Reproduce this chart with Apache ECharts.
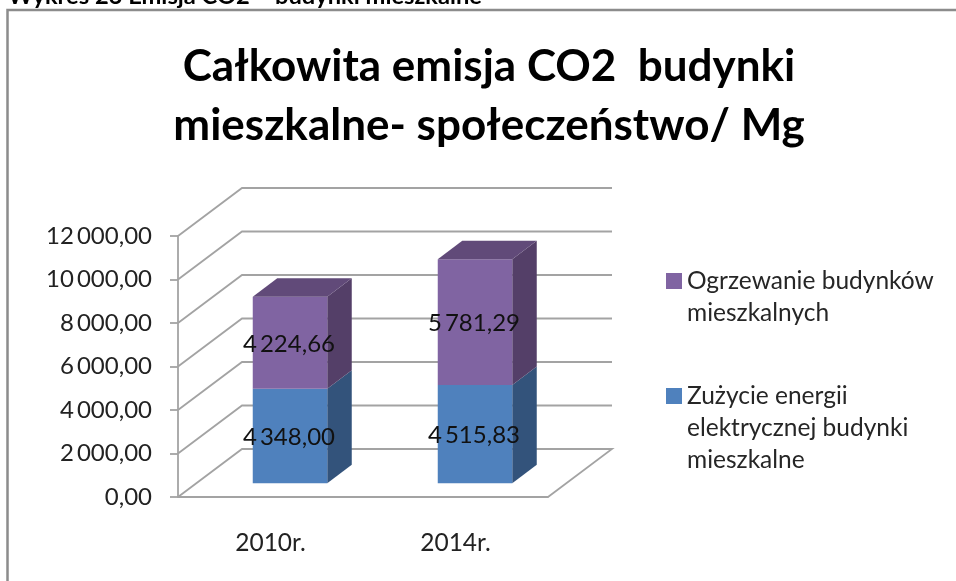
<!DOCTYPE html>
<html>
<head>
<meta charset="utf-8">
<title>Emisja CO2</title>
<script src="https://cdn.jsdelivr.net/npm/echarts@6/dist/echarts.min.js"></script>
<style>
html,body{margin:0;padding:0;background:#fff;}
#main{width:956px;height:581px;}
</style>
</head>
<body>
<div id="main"></div>
<script>
// dane z wykresu
var categories = ['2010r.', '2014r.'];
var elektrycznosc = [4348.00, 4515.83];
var ogrzewanie = [4224.66, 5781.29];
var yTicks = [0, 2000, 4000, 6000, 8000, 10000, 12000];
var nameElektr = 'Zużycie energii elektrycznej budynki mieszkalne';
var nameOgrz = 'Ogrzewanie budynków mieszkalnych';

var fontName = 'Lato';
var lineColor = '#a3a3a3';

// liczba w polskim zapisie: 12 000,00 (waska spacja)
function plNumber(v){
    var s = v.toFixed(2).split('.');
    return s[0].replace(/\B(?=(\d{3})+$)/g, '\u2009') + ',' + s[1];
}

// tylne sciany - linie siatki "3D"
function renderWall(params, api){
    var rect = params.coordSys;
    var y = api.coord([0, api.value(0)])[1];
    var dx = 64, dy = 48;
    var pts = [[rect.x, y], [rect.x + dx, y - dy], [rect.x + rect.width + dx, y - dy]];
    if (api.value(0) === 0) {
        pts.push([rect.x + rect.width, y]);  // podloga, prawa krawedz
    }
    return {
        type: 'polyline',
        shape: {points: pts},
        style: {stroke: lineColor, lineWidth: 1.8, fill: null}
    };
}

// slupek 3D: przod, bok i opcjonalnie gora
function makeBar(values, bases, front, side, top){
    return function(params, api){
        var i = api.value(0);
        var base = bases ? bases[i] : 0;
        var liftX = 19.5, liftY = 13.7;         // przesuniecie slupka w glab
        var depthX = 24.5, depthY = 18.5;
        var w = 74.5;
        var p0 = api.coord([i, base]);
        var p1 = api.coord([i, base + values[i]]);
        var x0 = p0[0] + liftX - w / 2, x1 = x0 + w;
        var y0 = p0[1] - liftY, y1 = p1[1] - liftY;
        var kids = [
            {type: 'polygon', shape: {points: [[x1, y0], [x1 + depthX, y0 - depthY], [x1 + depthX, y1 - depthY], [x1, y1]]}, style: {fill: side}},
            {type: 'rect', shape: {x: x0, y: y1, width: w, height: y0 - y1}, style: {fill: front}}
        ];
        if (top) {
            kids.push({type: 'polygon', shape: {points: [[x0, y1], [x0 + depthX, y1 - depthY], [x1 + depthX, y1 - depthY], [x1, y1]]}, style: {fill: top}});
        }
        kids.push({
            type: 'text',
            style: {
                text: plNumber(values[i]),
                x: (x0 + x1) / 2 - 1,
                y: (y0 + y1) / 2 + 1.5,
                align: 'center',
                verticalAlign: 'middle',
                fill: '#111',
                font: '24px ' + fontName
            }
        });
        return {type: 'group', children: kids};
    };
}

var myChart = echarts.init(document.getElementById('main'));
var option = {
    animation: false,
    backgroundColor: '#fff',
    textStyle: {fontFamily: fontName},
    title: [
        {
            text: 'Całkowita emisja CO2  budynki\nmieszkalne- społeczeństwo/ Mg',
            left: 484,
            top: 32,
            textAlign: 'center',
            textStyle: {fontFamily: fontName, fontSize: 44, fontWeight: 'bold', color: '#000', lineHeight: 59}
        },
        {
            text: 'Wykres 23 Emisja CO2 – budynki mieszkalne',
            left: 8,
            top: -16,
            padding: 0,
            textStyle: {fontFamily: fontName, fontSize: 23.7, fontWeight: 'bold', color: '#000'}
        }
    ],
    legend: [
        {
            data: [nameOgrz],
            left: 666,
            top: 233,
            padding: 0,
            orient: 'vertical',
            selectedMode: false,
            icon: 'rect',
            itemWidth: 16,
            itemHeight: 16,
            formatter: function(){ return '\nOgrzewanie budynków\nmieszkalnych'; },
            textStyle: {fontFamily: fontName, fontSize: 24.5, color: '#262626', lineHeight: 32}
        },
        {
            data: [nameElektr],
            left: 666,
            top: 316,
            padding: 0,
            orient: 'vertical',
            selectedMode: false,
            icon: 'rect',
            itemWidth: 16,
            itemHeight: 16,
            formatter: function(){ return '\n\nZużycie energii\nelektrycznej budynki\nmieszkalne'; },
            textStyle: {fontFamily: fontName, fontSize: 24.5, color: '#262626', lineHeight: 32}
        }
    ],
    grid: {left: 178, top: 236, width: 370, height: 261},
    xAxis: {
        type: 'category',
        data: categories,
        axisLine: {lineStyle: {color: lineColor, width: 1.8}},
        axisTick: {length: 8, lineStyle: {color: lineColor, width: 1.8}},
        axisLabel: {fontFamily: fontName, fontSize: 24.5, color: '#222', margin: 34}
    },
    yAxis: {
        type: 'value',
        min: 0,
        max: 12000,
        interval: 2000,
        axisLine: {show: true, lineStyle: {color: lineColor, width: 1.8}},
        axisTick: {show: true, length: 8, lineStyle: {color: lineColor, width: 1.8}},
        splitLine: {show: false},
        axisLabel: {fontFamily: fontName, fontSize: 24, color: '#222', margin: 26, formatter: plNumber}
    },
    series: [
        {
            type: 'custom',
            silent: true,
            z: 1,
            data: yTicks,
            encode: {y: 0},
            renderItem: renderWall
        },
        {
            type: 'custom',
            name: nameElektr,
            z: 2,
            itemStyle: {color: '#4f81bd'},
            data: categories.map(function(c, i){ return [i, elektrycznosc[i]]; }),
            encode: {x: 0, y: 1},
            renderItem: makeBar(elektrycznosc, null, '#4f81bd', '#33537b', null)
        },
        {
            type: 'custom',
            name: nameOgrz,
            z: 3,
            itemStyle: {color: '#8064a2'},
            data: categories.map(function(c, i){ return [i, ogrzewanie[i]]; }),
            encode: {x: 0, y: 1},
            renderItem: makeBar(ogrzewanie, elektrycznosc, '#8064a2', '#543f68', '#614a79')
        }
    ],
    // ramka wykresu
    graphic: [{
        type: 'polyline',
        silent: true,
        shape: {points: [[7.5, 581], [7.5, 10], [956, 10]]},
        style: {stroke: '#8c8c8c', lineWidth: 2.5, fill: null}
    }]
};
myChart.setOption(option);
</script>
</body>
</html>
